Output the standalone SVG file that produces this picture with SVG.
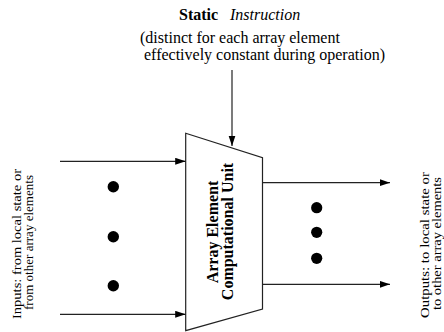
<svg xmlns="http://www.w3.org/2000/svg" width="444" height="332" viewBox="0 0 444 332">
<style>
  .ln { stroke:#222; stroke-width:1.2; fill:none; }
  .t { font-family:"Liberation Serif","Times New Roman",serif; fill:#000; }
  .dot { fill:#000; }
</style>
<defs>
  <marker id="ah" markerWidth="11" markerHeight="8" refX="10.5" refY="3.5" orient="auto" markerUnits="userSpaceOnUse">
    <path d="M0,0 L10.5,3.5 L0,7 z" fill="#000"/>
  </marker>
</defs>
<rect width="444" height="332" fill="#fff"/>
<g id="instruction-label">
  <text class="t" x="179" y="20" font-size="16" font-weight="bold">Static</text>
  <text class="t" x="230" y="20" font-size="16" font-style="italic">Instruction</text>
  <text class="t" x="140" y="43" font-size="16">(distinct for each array element</text>
  <text class="t" x="144" y="60" font-size="16">effectively constant during operation)</text>
</g>
<g id="unit">
  <polygon class="ln" points="185.7,133.3 262.5,157.7 262.5,309 185.7,330.7"/>
  <text class="t" font-size="16" font-weight="bold" text-anchor="middle" transform="translate(218,232) rotate(-90)">Array Element</text>
  <text class="t" font-size="16" font-weight="bold" text-anchor="middle" transform="translate(233,231.5) rotate(-90)">Computational Unit</text>
</g>
<g id="inputs-label">
  <text class="t" font-size="12" textLength="150" lengthAdjust="spacingAndGlyphs" transform="translate(20.5,319) rotate(-90)">Inputs:  from local state or</text>
  <text class="t" font-size="12" textLength="135" lengthAdjust="spacingAndGlyphs" transform="translate(33,310) rotate(-90)">from other array elements</text>
</g>
<g id="outputs-label">
  <text class="t" font-size="12" textLength="146" lengthAdjust="spacingAndGlyphs" transform="translate(429,318) rotate(-90)">Outputs:  to local state or</text>
  <text class="t" font-size="12" textLength="133" lengthAdjust="spacingAndGlyphs" transform="translate(440.5,310) rotate(-90)">to other array elements</text>
</g>
<g id="input-dots">
  <circle class="dot" cx="113.3" cy="186.7" r="5.7"/>
  <circle class="dot" cx="113.3" cy="236.7" r="5.7"/>
  <circle class="dot" cx="113.3" cy="285.7" r="5.7"/>
</g>
<g id="output-dots">
  <circle class="dot" cx="316.7" cy="207.7" r="5.6"/>
  <circle class="dot" cx="316.7" cy="232.3" r="5.6"/>
  <circle class="dot" cx="316.7" cy="258.3" r="5.6"/>
</g>
<g id="connectors">
  <line class="ln" x1="232" y1="70" x2="232" y2="146" marker-end="url(#ah)"/>
  <line class="ln" x1="60" y1="161.3" x2="185.7" y2="161.3" marker-end="url(#ah)"/>
  <line class="ln" x1="60" y1="314.3" x2="185.7" y2="314.3" marker-end="url(#ah)"/>
  <line class="ln" x1="262.5" y1="182.7" x2="390" y2="182.7" marker-end="url(#ah)"/>
  <line class="ln" x1="262.5" y1="284.3" x2="390" y2="284.3" marker-end="url(#ah)"/>
</g>
</svg>
